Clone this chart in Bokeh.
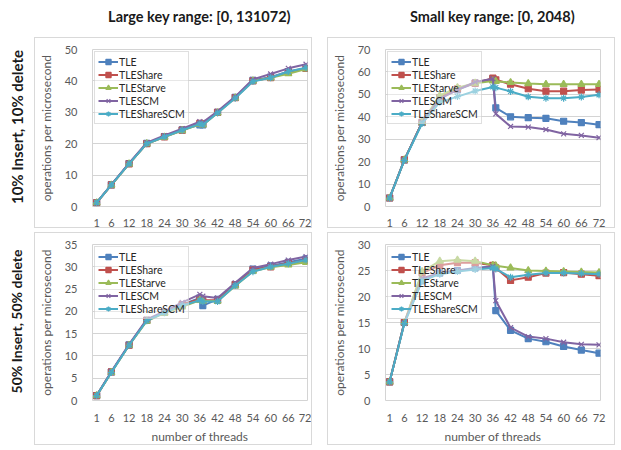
from bokeh.plotting import figure
from bokeh.models import Range1d, FixedTicker, Legend, LegendItem, Spacer
from bokeh.layouts import column, row
from bokeh.embed import file_html
from bokeh.resources import INLINE

# ---------------- data ----------------
threads = [1, 6, 12, 18, 24, 30, 36, 37, 42, 48, 54, 60, 66, 72]
x_ticks = [1, 6, 12, 18, 24, 30, 36, 42, 48, 54, 60, 66, 72]
series_names = ["TLE", "TLEShare", "TLEStarve", "TLESCM", "TLEShareSCM"]
col_titles = ["Large key range: [0, 131072)", "Small key range: [0, 2048)"]
row_titles = ["10% Insert, 10% delete", "50% Insert, 50% delete"]
y_label = "operations per microsecond"
x_label = "number of threads"

# 10% insert / 10% delete, large key range
l10_tle = [1.2, 6.9, 13.7, 20.1, 22.3, 24.4, 26.0, 26.0, 30.0, 34.8, 40.2, 41.2, 43.0, 44.0]
l10_share = [1.2, 6.9, 13.6, 20.0, 22.2, 24.3, 26.5, 26.3, 30.0, 34.7, 40.0, 41.0, 42.8, 44.0]
l10_starve = [1.2, 6.8, 13.6, 20.0, 22.1, 24.2, 26.2, 26.0, 29.8, 34.6, 40.0, 41.0, 42.3, 43.8]
l10_scm = [1.2, 7.0, 13.8, 20.3, 22.6, 24.8, 27.0, 26.8, 30.3, 35.0, 40.5, 42.2, 44.0, 45.3]
l10_sharescm = [1.2, 6.9, 13.6, 20.0, 22.2, 24.3, 26.3, 26.0, 29.8, 34.5, 39.8, 41.0, 43.0, 44.2]

# 10% insert / 10% delete, small key range
s10_tle = [3.8, 20.8, 37.5, 48.5, 52.0, 55.0, 57.0, 44.0, 40.0, 39.6, 39.3, 38.0, 37.4, 36.5]
s10_share = [3.8, 20.8, 37.5, 48.5, 52.5, 55.0, 57.2, 56.5, 54.5, 52.5, 51.4, 51.4, 51.9, 52.2]
s10_starve = [3.8, 20.8, 37.5, 49.5, 53.0, 55.0, 56.0, 55.8, 55.3, 54.8, 54.5, 54.5, 54.5, 54.5]
s10_scm = [3.8, 20.8, 37.5, 48.0, 52.0, 55.5, 57.0, 41.3, 35.7, 35.4, 34.3, 32.4, 31.7, 30.7]
s10_sharescm = [3.8, 20.6, 37.0, 46.5, 49.0, 51.5, 53.3, 53.0, 51.3, 48.9, 48.3, 48.3, 48.8, 49.8]

# 50% insert / 50% delete, large key range
l50_tle = [1.1, 6.4, 12.5, 18.0, 19.8, 21.5, 23.0, 21.3, 22.7, 26.0, 29.5, 30.2, 31.0, 31.8]
l50_share = [1.1, 6.4, 12.4, 18.0, 19.8, 21.5, 22.8, 22.5, 22.5, 26.0, 29.3, 30.0, 30.8, 31.4]
l50_starve = [1.1, 6.3, 12.4, 17.8, 19.6, 21.0, 22.5, 22.3, 22.3, 25.7, 29.0, 29.9, 30.4, 31.0]
l50_scm = [1.1, 6.5, 12.6, 18.2, 20.0, 22.0, 23.8, 23.4, 23.0, 26.4, 29.7, 30.6, 31.5, 32.3]
l50_sharescm = [1.1, 6.3, 12.4, 17.9, 19.7, 21.3, 22.5, 22.2, 22.2, 25.8, 28.9, 30.0, 30.7, 31.5]

# 50% insert / 50% delete, small key range
s50_tle = [3.6, 15.0, 23.0, 24.5, 25.0, 25.5, 25.8, 17.3, 13.5, 11.9, 11.3, 10.4, 9.7, 9.1]
s50_share = [3.6, 15.0, 24.5, 26.0, 26.5, 26.5, 26.0, 25.5, 23.1, 23.7, 24.5, 24.6, 24.3, 24.0]
s50_starve = [3.6, 15.0, 24.8, 26.8, 27.0, 26.8, 26.0, 25.9, 25.5, 25.0, 24.9, 24.8, 24.7, 24.6]
s50_scm = [3.6, 15.0, 23.5, 24.5, 25.0, 25.3, 25.8, 19.2, 14.0, 12.3, 11.9, 11.2, 10.8, 10.7]
s50_sharescm = [3.6, 14.8, 23.0, 24.3, 24.8, 25.2, 25.5, 25.3, 23.7, 24.2, 24.5, 24.5, 24.4, 24.3]

# ---------------- styling ----------------
colors = ["#4F81BD", "#C0504D", "#9BBB59", "#8064A2", "#4BACC6"]
markers = ["square", "square", "triangle", "x", "asterisk"]
msizes = [6, 6, 7, 7, 7]
FONT = "Lato"
GRID = "#d4d4d4"
TXT = "#595959"


def chart(width, height, ymax, ystep, series, bottom_label, mb):
    left, right, top, bottom = mb
    p = figure(width=width, height=height, output_backend="svg", toolbar_location=None,
               x_range=Range1d(-0.4, 72.5), y_range=Range1d(0, ymax),
               min_border_left=left, min_border_right=right,
               min_border_top=top, min_border_bottom=bottom,
               background_fill_color="white", border_fill_color="white",
               styles={"border": "1px solid #d9d9d9", "box-sizing": "border-box"})
    p.outline_line_color = GRID
    p.xgrid.grid_line_color = None
    p.ygrid.grid_line_color = GRID
    p.ygrid.grid_line_width = 1
    p.xaxis.ticker = FixedTicker(ticks=x_ticks)
    p.yaxis.ticker = FixedTicker(ticks=list(range(0, ymax + 1, ystep)))
    for ax in (p.xaxis[0], p.yaxis[0]):
        ax.axis_line_color = None
        ax.major_tick_line_color = None
        ax.minor_tick_line_color = None
        ax.major_label_text_font = FONT
        ax.major_label_text_font_size = "11px"
        ax.major_label_text_color = TXT
        ax.axis_label_text_font = FONT
        ax.axis_label_text_font_size = "12px"
        ax.axis_label_text_font_style = "normal"
        ax.axis_label_text_color = TXT
    p.yaxis.major_label_standoff = 9
    p.yaxis.axis_label = y_label
    p.yaxis.axis_label_standoff = 8
    if bottom_label:
        p.xaxis.major_label_standoff = 7
        p.xaxis.axis_label = x_label
        p.xaxis.axis_label_standoff = 4
    else:
        p.xaxis.major_label_standoff = 6
    items = []
    for name, ys, c, m, s in zip(series_names, series, colors, markers, msizes):
        ln = p.line(threads, ys, line_color=c, line_width=2)
        sc = p.scatter(threads, ys, marker=m, size=s, fill_color=c, line_color=c, line_width=1.2)
        items.append(LegendItem(label=name, renderers=[ln, sc]))
    lg = Legend(items=items, location="top_left", margin=2, padding=3, spacing=0,
                label_text_font=FONT, label_text_font_size="10.5px", label_text_color="#262626",
                label_height=13, glyph_height=13, glyph_width=20, label_standoff=1,
                border_line_color="#bfbfbf", background_fill_alpha=0.45)
    p.add_layout(lg)
    return p


def header(width, text, left, right):
    p = figure(width=width, height=37, output_backend="svg", toolbar_location=None,
               min_border_left=left, min_border_right=right, min_border_top=4, min_border_bottom=0,
               x_range=Range1d(0, 1), y_range=Range1d(0, 1), outline_line_color=None)
    p.axis.visible = False
    p.grid.visible = False
    p.title.text = text
    p.title.align = "center"
    p.title.text_font = FONT
    p.title.text_font_size = "14.5px"
    p.title.text_font_style = "bold"
    p.title.text_color = "#1a1a1a"
    return p


def rowlabel(height, text, offset, size):
    p = figure(width=34, height=height, output_backend="svg", toolbar_location=None,
               min_border_left=16, min_border_right=0, min_border_top=11, min_border_bottom=0,
               x_range=Range1d(0, 1), y_range=Range1d(0, 1), outline_line_color=None,
               title_location="left")
    p.axis.visible = False
    p.grid.visible = False
    p.title.text = text
    p.title.align = "center"
    p.title.offset = offset
    p.title.text_font = FONT
    p.title.text_font_size = size
    p.title.text_font_style = "bold"
    p.title.text_color = "#1a1a1a"
    return p


tl = chart(278, 191, 50, 10, [l10_tle, l10_share, l10_starve, l10_scm, l10_sharescm], False, (48, 6, 10, 20))
tr = chart(288, 191, 70, 10, [s10_tle, s10_share, s10_starve, s10_scm, s10_sharescm], False, (49, 16, 10, 20))
bl = chart(278, 213, 35, 5, [l50_tle, l50_share, l50_starve, l50_scm, l50_sharescm], True, (48, 6, 10, 42))
br = chart(288, 213, 30, 5, [s50_tle, s50_share, s50_starve, s50_scm, s50_sharescm], True, (49, 16, 10, 44))

h1 = header(293, col_titles[0], 49, 12)
h2 = header(294, col_titles[1], 50, 14)
r1 = rowlabel(191, row_titles[0], 23, "15px")
r2 = rowlabel(213, row_titles[1], 37, "14px")

layout = column(
    row(Spacer(width=34, height=37), h1, h2),
    row(r1, tl, Spacer(width=15, height=191), tr),
    Spacer(width=10, height=4),
    row(r2, bl, Spacer(width=15, height=213), br),
)

open("out.html", "w").write(file_html(layout, INLINE))
